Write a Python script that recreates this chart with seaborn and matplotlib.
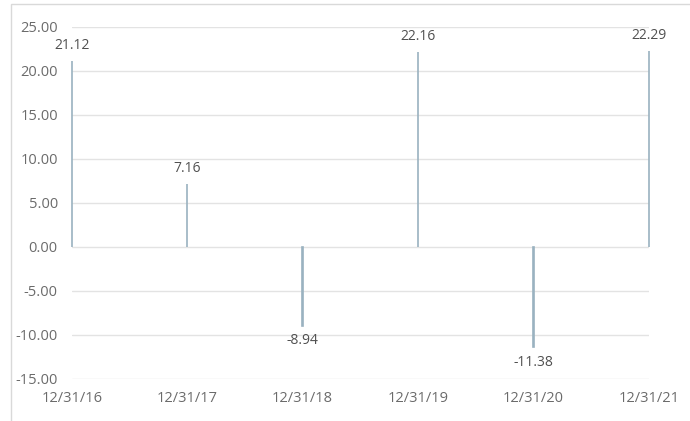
import pandas as pd
import numpy as np
import matplotlib.pyplot as plt
import seaborn as sns
from matplotlib.patches import Rectangle

# Data
dates = ["12/31/16", "12/31/17", "12/31/18", "12/31/19", "12/31/20", "12/31/21"]
values = [21.12, 7.16, -8.94, 22.16, -11.38, 22.29]
yticks = [-15, -10, -5, 0, 5, 10, 15, 20, 25]

df = pd.DataFrame({"date": dates, "value": values})

sns.set_style("white")
plt.rcParams["font.family"] = ["Open Sans", "DejaVu Sans"]

fig = plt.figure(figsize=(6.9, 4.21), dpi=100)
ax = fig.add_axes([0.104, 0.0998, 0.8366, 0.8362])

# thin outer chart border
fig.patches.append(Rectangle((11 / 690, -0.1), 1.2, 1 - 4 / 421 + 0.1,
                             transform=fig.transFigure, fill=False,
                             edgecolor="#d9d9d9", linewidth=1))

# very narrow bars, width carried by the edge line so every bar is ~2px
bar_color = "#9ab2c0"
sns.barplot(data=df, x="date", y="value", color=bar_color, width=0.004,
            saturation=1, edgecolor=bar_color, linewidth=1.2, ax=ax, zorder=3)
for p in ax.patches:
    p.set_clip_on(False)

ax.set_xlim(0, len(dates) - 1)
ax.set_ylim(-15, 25)
ax.set_yticks(yticks)
ax.set_yticklabels([f"{t:.2f}" for t in yticks])
ax.grid(axis="y", color="#e3e3e3", linewidth=1)
ax.set_xlabel("")
ax.set_ylabel("")
for s in ax.spines.values():
    s.set_visible(False)
ax.tick_params(axis="y", length=0, pad=10, labelsize=10.5, labelcolor="#6b6b6b")
ax.tick_params(axis="x", length=0, pad=9, labelsize=10.5, labelcolor="#6b6b6b")

# Data labels
for i, v in enumerate(values):
    off = 11 if v >= 0 else -11
    ax.annotate(f"{v:.2f}", (i, v), xytext=(0, off), textcoords="offset points",
                ha="center", va="center", fontsize=10, color="#505050")

fig.savefig("out.png", dpi=100)
